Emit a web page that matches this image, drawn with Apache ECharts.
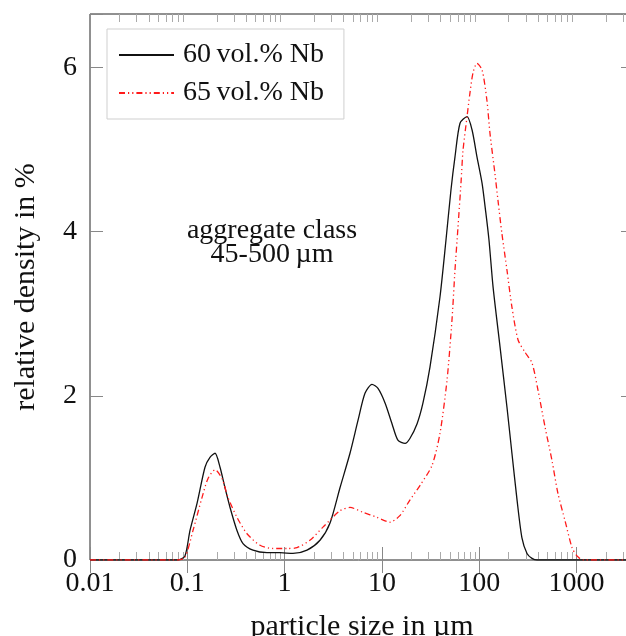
<!DOCTYPE html>
<html>
<head>
<meta charset="utf-8">
<script src="https://cdn.jsdelivr.net/npm/echarts@6/dist/echarts.min.js"></script>
<style>html,body{margin:0;padding:0;background:#fff}#c{width:626px;height:636px}</style>
</head>
<body>
<div id="c"></div>
<script>
// ---- data ----
const seriesNames = ['60\u2009vol.% Nb', '65\u2009vol.% Nb'];

const size60 = [0.01, 0.0414, 0.0697, 0.0802, 0.0946, 0.1066, 0.1259, 0.152, 0.171, 0.193, 0.217, 0.244, 0.275, 0.324, 0.374, 0.473, 0.659, 0.897, 1.22, 1.70, 2.31, 2.93, 3.71, 4.70, 5.68, 6.70, 7.91, 9.12, 10.8, 12.7, 14.6, 17.3, 19.4, 23.0, 26.4, 31.2, 39.5, 45.6, 51.3, 56.4, 63.5, 75.0, 84.4, 94.9, 107, 117, 126, 139, 164, 193, 217, 245, 275, 310, 349, 393, 3900];
const dens60 = [0, 0, 0, 0, 0.05, 0.36, 0.69, 1.13, 1.25, 1.30, 1.13, 0.88, 0.64, 0.36, 0.20, 0.12, 0.09, 0.09, 0.08, 0.12, 0.24, 0.45, 0.88, 1.30, 1.70, 2.03, 2.14, 2.09, 1.91, 1.66, 1.46, 1.42, 1.48, 1.66, 1.91, 2.35, 3.20, 3.90, 4.51, 4.91, 5.32, 5.40, 5.24, 4.91, 4.59, 4.23, 3.90, 3.32, 2.59, 1.86, 1.30, 0.73, 0.27, 0.08, 0.02, 0, 0];

const size65 = [0.01, 0.08, 0.0946, 0.1145, 0.1416, 0.163, 0.193, 0.228, 0.262, 0.324, 0.411, 0.559, 0.760, 1.06, 1.34, 1.82, 2.48, 3.71, 4.70, 6.40, 8.91, 12.1, 15.3, 19.4, 24.7, 32.7, 39.5, 46.7, 52.5, 56.4, 60.5, 65.0, 68.2, 75.0, 80.4, 86.3, 94.9, 107, 120, 129, 145, 156, 171, 193, 217, 251, 296, 349, 402, 475, 560, 645, 762, 900, 1012, 1167, 3900];
const dens65 = [0, 0, 0.03, 0.36, 0.76, 0.99, 1.10, 0.99, 0.76, 0.52, 0.32, 0.18, 0.14, 0.14, 0.15, 0.24, 0.40, 0.60, 0.64, 0.58, 0.52, 0.46, 0.54, 0.73, 0.91, 1.15, 1.54, 2.19, 2.92, 3.53, 4.05, 4.59, 4.99, 5.40, 5.69, 5.93, 6.05, 5.97, 5.60, 5.20, 4.71, 4.38, 3.98, 3.53, 3.08, 2.68, 2.53, 2.40, 2.07, 1.62, 1.21, 0.81, 0.48, 0.15, 0.05, 0, 0];

const xMin = 0.01, xMax = 3900;
const yMin = 0, yMax = 6.65, yStep = 2;
const annotation = ['aggregate class', '45-500\u2009µm'];
const xTitle = 'particle size in µm';
const yTitle = 'relative density in %';

// minor tick positions of the log axis (2..9 x 10^k)
const minorTicks = [];
for (let k = -2; k <= 3; k++) for (let m = 2; m <= 9; m++) { const v = m * Math.pow(10, k); if (v < xMax) minorTicks.push(+v.toPrecision(3)); }

const FONT = '"Liberation Serif", "DejaVu Serif", serif';
const chart = echarts.init(document.getElementById('c'), null, {renderer: 'canvas'});

function pairs(xs, ys) { return xs.map((x, i) => [x, ys[i]]); }
function logLabel(v) {
  const l = Math.log10(v);
  if (Math.abs(l - Math.round(l)) > 1e-6) return '';
  return String(Math.pow(10, Math.round(l)));
}

chart.setOption({
  animation: false,
  backgroundColor: '#fff',
  grid: {left: 90, right: -8, top: 14, bottom: 76, show: true, borderColor: '#222', borderWidth: 1,
         backgroundColor: 'transparent', containLabel: false, outerBoundsMode: 'none'},
  legend: {
    data: seriesNames,
    left: 107, top: 29,
    orient: 'vertical',
    itemWidth: 55, itemHeight: 30, itemGap: 8,
    padding: [11, 20, 11, 11],
    backgroundColor: '#fff',
    borderColor: '#cfcfcf', borderWidth: 1,
    itemStyle: {opacity: 0},
    textStyle: {fontFamily: FONT, fontSize: 28, color: '#111', lineHeight: 30, padding: [0, 0, 0, 4]}
  },
  xAxis: [
    {type: 'log', min: xMin, max: xMax, logBase: 10, position: 'bottom',
     axisLine: {show: false}, splitLine: {show: false},
     axisTick: {show: true, inside: true, length: 13, lineStyle: {color: '#888', width: 1}},
     axisLabel: {formatter: logLabel, fontFamily: FONT, fontSize: 28, color: '#111', margin: 10, showMaxLabel: false},
     name: xTitle, nameLocation: 'middle', nameGap: 52,
     nameTextStyle: {fontFamily: FONT, fontSize: 30, color: '#111'}},
    {type: 'log', min: xMin, max: xMax, logBase: 10, position: 'top',
     axisLine: {show: false}, splitLine: {show: false},
     axisTick: {show: true, inside: true, length: 13, lineStyle: {color: '#888', width: 1}},
     axisLabel: {show: false}}
  ],
  yAxis: [
    {type: 'value', min: yMin, max: yMax, interval: yStep, position: 'left',
     axisLine: {show: false}, splitLine: {show: false},
     axisTick: {show: true, inside: true, length: 13, lineStyle: {color: '#888', width: 1}},
     axisLabel: {formatter: v => (Math.abs(v - Math.round(v)) < 1e-9 ? String(v) : ''), fontFamily: FONT, fontSize: 28, color: '#111', margin: 13},
     name: yTitle, nameLocation: 'middle', nameGap: 49, nameRotate: 90,
     nameTextStyle: {fontFamily: FONT, fontSize: 30, color: '#111'}},
    {type: 'value', min: yMin, max: yMax, interval: yStep, position: 'right',
     axisLine: {show: false}, splitLine: {show: false},
     axisTick: {show: true, inside: true, length: 13, lineStyle: {color: '#888', width: 1}},
     axisLabel: {show: false}}
  ],
  graphic: [{
    type: 'text', x: 272, y: 219, z: 10,
    style: {text: annotation.join('\n'), fontFamily: FONT, fontSize: 28, lineHeight: 24, fill: '#111', align: 'center', verticalAlign: 'top'}
  }],
  series: [
    {name: seriesNames[0], type: 'line', data: pairs(size60, dens60), symbol: 'none', smooth: 0.25,
     lineStyle: {color: '#111', width: 1.3}, itemStyle: {color: '#111'}, z: 3},
    {name: seriesNames[1], type: 'line', data: pairs(size65, dens65), symbol: 'none', smooth: 0.25,
     lineStyle: {color: '#ff1a1a', width: 1.3, type: [6, 3, 1.2, 3, 1.2, 3]}, itemStyle: {color: '#ff1a1a'}, z: 4},
    {name: 'minor', type: 'custom', xAxisIndex: 0, yAxisIndex: 0, silent: true, clip: false,
     data: minorTicks.map(v => [v, yMin]),
     encode: {x: 0, y: 1},
     renderItem: function (params, api) {
       const v = api.value(0);
       const pb = api.coord([v, yMin]);
       const pt = api.coord([v, yMax]);
       const x = Math.round(pb[0]) + 0.5;
       const st = {stroke: '#aaa', lineWidth: 1};
       return {type: 'group', children: [
         {type: 'line', shape: {x1: x, y1: pb[1], x2: x, y2: pb[1] - 8}, style: st},
         {type: 'line', shape: {x1: x, y1: pt[1], x2: x, y2: pt[1] + 8}, style: st}
       ]};
     }}
  ]
});
</script>
</body>
</html>
